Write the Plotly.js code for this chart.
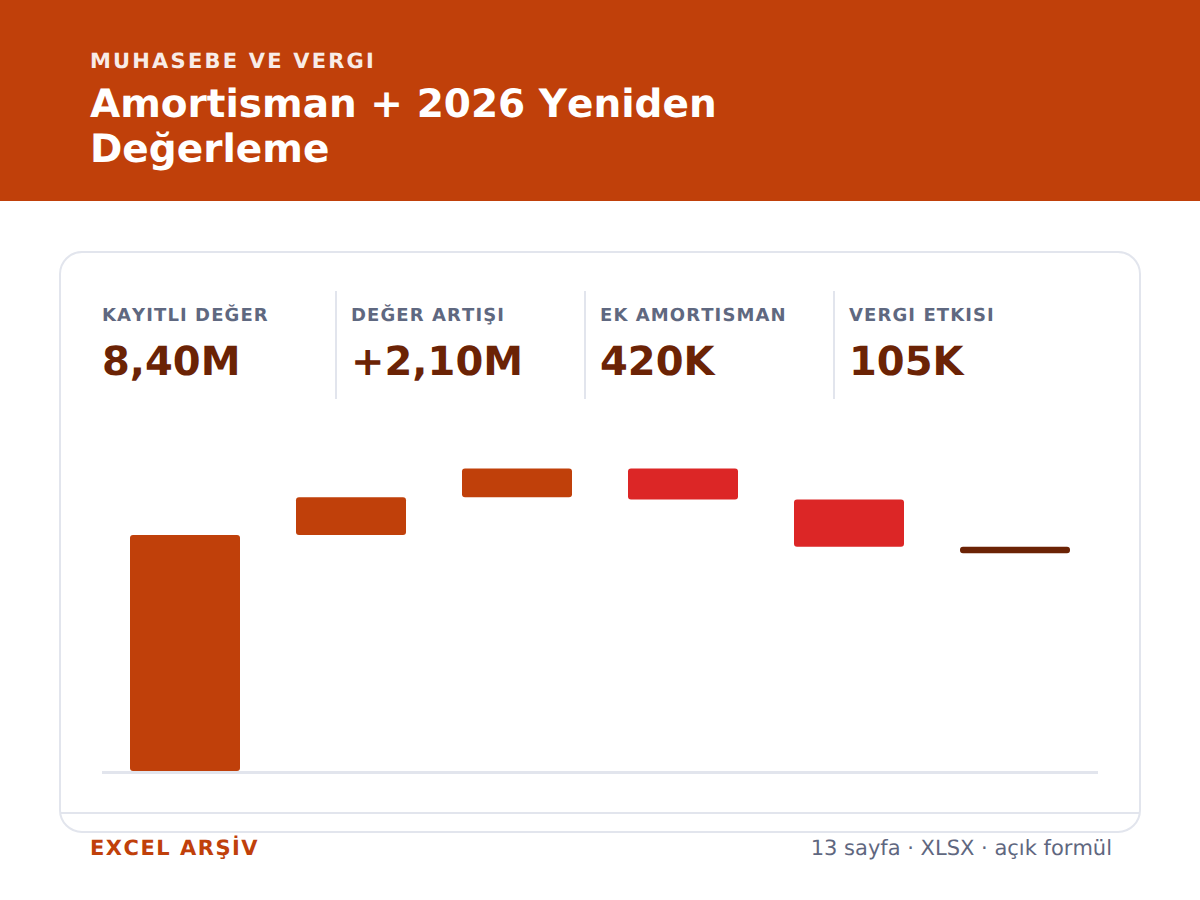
<!DOCTYPE html>
<html lang="tr">
<head>
<meta charset="utf-8">
<title>Amortisman + 2026 Yeniden Değerleme</title>
<script src="https://cdn.plot.ly/plotly-3.0.1.min.js"></script>
<style>
  html, body { margin: 0; padding: 0; background: #fff; }
  body { width: 1200px; height: 900px; position: relative; overflow: hidden; font-family: "DejaVu Sans", sans-serif; text-rendering: geometricPrecision; font-kerning: none; }
  .abs { position: absolute; white-space: nowrap; }
  #header { left: 0; top: 0; width: 1200px; height: 201px; background: #c0400a; }
  #eyebrow { left: 90px; top: 49px; font-size: 21px; line-height: 24px; font-weight: 700; letter-spacing: 2.2px; color: #fff; opacity: .9; }
  #title { left: 90px; top: 82px; font-size: 39px; line-height: 45px; font-weight: 700; color: #fff; }
  #card { left: 59px; top: 251px; width: 1078px; height: 578px; border: 2px solid #e2e5ed; border-radius: 23px; }
  #footline { left: 60px; top: 812px; width: 1080px; height: 2px; background: #e2e5ed; }
  .sep { top: 291px; width: 2px; height: 108px; background: #e2e5ed; }
  .kpi-label { top: 306px; font-size: 18px; line-height: 20px; font-weight: 700; letter-spacing: 1.1px; color: #5f6880; }
  .kpi-value { top: 338px; font-size: 40px; line-height: 48px; font-weight: 700; color: #6b2305; }
  #chart { left: 102px; top: 420px; width: 996px; height: 355px; }
  #foot-left { left: 90px; top: 836px; font-size: 21px; line-height: 24px; font-weight: 700; letter-spacing: 1.5px; color: #c0400a; }
  #foot-right { right: 88px; top: 836px; font-size: 21px; line-height: 24px; color: #5f6780; }
</style>
</head>
<body>
<div class="abs" id="header"></div>
<div class="abs" id="eyebrow">MUHASEBE VE VERGI</div>
<div class="abs" id="title">Amortisman + 2026 Yeniden<br>Değerleme</div>
<div class="abs" id="card"></div>
<div class="abs" id="footline"></div>
<div id="kpis"></div>
<div class="abs" id="chart"></div>
<div class="abs" id="foot-left">EXCEL ARŞİV</div>
<div class="abs" id="foot-right">13 sayfa · XLSX · açık formül</div>

<script>
var kpi_labels = ["KAYITLI DEĞER", "DEĞER ARTIŞI", "EK AMORTISMAN", "VERGI ETKISI"];
var kpi_values = ["8,40M", "+2,10M", "420K", "105K"];

// waterfall, values in millions
var steps = ["Kayıtlı değer", "Değer artışı", "Artış 2", "Ek amortisman", "Vergi etkisi", "Net"];
var step_base = [0, 8.40, 9.74, 9.66, 7.98, 7.75];
var step_size = [8.40, 1.34, 1.02, 1.10, 1.68, 0.23];
var step_color = ["#c0400a", "#c0400a", "#c0400a", "#dc2626", "#dc2626", "#6b2305"];

// kpi strip
var kpi_x = [102, 351, 600, 849];
var kpis = document.getElementById("kpis");
kpi_labels.forEach(function(label, i){
    var l = document.createElement("div");
    l.className = "abs kpi-label";
    l.style.left = kpi_x[i] + "px";
    l.textContent = label;
    kpis.appendChild(l);

    var v = document.createElement("div");
    v.className = "abs kpi-value";
    v.style.left = kpi_x[i] + "px";
    v.textContent = kpi_values[i];
    kpis.appendChild(v);

    if (i > 0) {
        var s = document.createElement("div");
        s.className = "abs sep";
        s.style.left = (kpi_x[i] - 16) + "px";
        kpis.appendChild(s);
    }
});

var bars = {
    type: "bar",
    x: steps,
    y: step_size,
    base: step_base,
    width: 0.6627,
    marker: { color: step_color, line: { width: 0 }, cornerradius: 3 },
    hoverinfo: "skip"
};

var layout = {
    width: 996,
    height: 355,
    margin: { l: 0, r: 0, t: 0, b: 4 },
    paper_bgcolor: "rgba(0,0,0,0)",
    plot_bgcolor: "rgba(0,0,0,0)",
    showlegend: false,
    xaxis: {
        type: "category",
        range: [-0.5, 5.5],
        showticklabels: false,
        ticks: "",
        showgrid: false,
        zeroline: false,
        showline: true,
        linecolor: "#e2e5ed",
        linewidth: 3
    },
    yaxis: {
        range: [0, 12.49],
        visible: false,
        showgrid: false,
        zeroline: false
    }
};

Plotly.newPlot("chart", [bars], layout, { displayModeBar: false, staticPlot: true });
</script>
</body>
</html>
